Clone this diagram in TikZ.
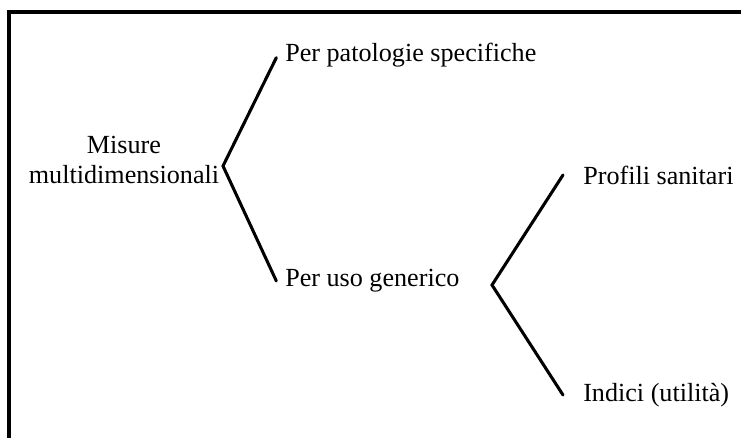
\documentclass[tikz,border=0pt]{standalone}
\usepackage{fontspec}
\setmainfont{Liberation Serif}
\usetikzlibrary{positioning}

\begin{document}
\begin{tikzpicture}[x=0.75pt,y=-0.75pt,line cap=round,line join=miter,
    label/.style={font=\fontsize{19.6pt}{22.5pt}\selectfont,inner sep=0pt},
    leaf/.style={label,anchor=west},
    brace/.style={line width=2.3pt}]
  \useasboundingbox (0,0) rectangle (741,438);
  \draw[line width=2.7pt] (9,440) -- (9,12) -- (745,12);

  \node[label,align=center] (misure) at (124,160) {Misure\\multidimensionali};
  \coordinate (fork1) at (223,166);
  \coordinate (fork2) at (492,285);

  \node[leaf] (specific) at (285,55) {Per patologie specifiche};
  \node[leaf] (generic) at (285,281) {Per uso generico};
  \node[leaf] (profiles) at (583,175) {Profili sanitari};
  \node[leaf] (indices) at (583,395) {Indici (utilità)};

  \draw[brace] ([xshift=-6.5pt,yshift=-2pt]specific.west) -- (fork1) -- ([xshift=-6.5pt]generic.west);
  \draw[brace] ([xshift=-15pt]profiles.west) -- (fork2) -- ([xshift=-15pt]indices.west);
\end{tikzpicture}
\end{document}
